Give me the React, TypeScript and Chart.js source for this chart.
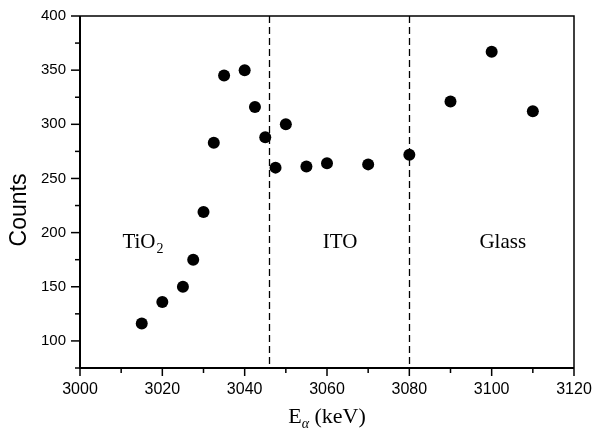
import React, { useEffect, useRef } from 'react';
import { Chart, registerables } from 'chart.js';

Chart.register(...registerables);

// ---- data ----
const energies = [3015, 3020, 3025, 3027.5, 3030, 3032.5, 3035, 3040, 3042.5, 3045, 3047.5, 3050, 3055, 3060, 3070, 3080, 3090, 3100, 3110];
const counts = [116, 136, 150, 175, 219, 283, 345, 350, 316, 288, 260, 300, 261, 264, 263, 272, 321, 367, 312];

const boundaries = [3046, 3080];

const regionNames = ['TiO', 'ITO', 'Glass'];
const regionSubs = ['2', '', ''];
const regionX = [3015.3, 3063.2, 3102.7];
const regionY = [186, 186, 186];

const xMajorTicks = [3000, 3020, 3040, 3060, 3080, 3100, 3120];
const xMinorTicks = [3010, 3030, 3050, 3070, 3090, 3110];
const yMajorTicks = [100, 150, 200, 250, 300, 350, 400];
const yMinorTicks = [75, 125, 175, 225, 275, 325, 375];

const yTitle = 'Counts';
const xTitleMain = 'E';
const xTitleSub = 'α';
const xTitleRest = ' (keV)';

const SERIF = '"Liberation Serif", "Times New Roman", serif';
const SANS = '"Liberation Sans", Arial, sans-serif';

const overlayPlugin = {
  id: 'overlay',
  beforeDatasetsDraw(chart: any) {
    const ctx = chart.ctx;
    const ca = chart.chartArea;
    const xs = chart.scales.x;
    ctx.save();
    ctx.strokeStyle = '#000';
    ctx.lineWidth = 1.3;
    ctx.setLineDash([7, 4]);
    boundaries.forEach((b) => {
      const px = Math.round(xs.getPixelForValue(b)) + 0.5;
      ctx.beginPath();
      ctx.moveTo(px, ca.top);
      ctx.lineTo(px, ca.bottom);
      ctx.stroke();
    });
    ctx.restore();
  },
  afterDraw(chart: any) {
    const ctx = chart.ctx;
    const ca = chart.chartArea;
    const xs = chart.scales.x;
    const ys = chart.scales.y;
    ctx.save();
    ctx.strokeStyle = '#000';
    ctx.fillStyle = '#000';
    // frame
    ctx.lineWidth = 1.5;
    ctx.beginPath();
    ctx.moveTo(ca.left, ca.top);
    ctx.lineTo(ca.right, ca.top);
    ctx.lineTo(ca.right, ca.bottom);
    ctx.stroke();
    ctx.lineWidth = 2;
    ctx.beginPath();
    ctx.moveTo(ca.left, ca.top);
    ctx.lineTo(ca.left, ca.bottom);
    ctx.lineTo(ca.right, ca.bottom);
    ctx.stroke();
    // ticks
    ctx.lineWidth = 1.5;
    const tick = (x1: number, y1: number, x2: number, y2: number) => {
      ctx.beginPath();
      ctx.moveTo(x1, y1);
      ctx.lineTo(x2, y2);
      ctx.stroke();
    };
    xMajorTicks.forEach((v) => {
      const px = xs.getPixelForValue(v);
      tick(px, ca.bottom, px, ca.bottom + 8);
    });
    xMinorTicks.forEach((v) => {
      const px = xs.getPixelForValue(v);
      tick(px, ca.bottom, px, ca.bottom + 5);
    });
    yMajorTicks.forEach((v) => {
      const py = ys.getPixelForValue(v);
      tick(ca.left, py, ca.left - 9, py);
    });
    yMinorTicks.forEach((v) => {
      const py = ys.getPixelForValue(v);
      tick(ca.left, py, ca.left - 5, py);
    });
    // region labels
    ctx.textBaseline = 'alphabetic';
    ctx.textAlign = 'left';
    regionNames.forEach((name, i) => {
      const cx = xs.getPixelForValue(regionX[i]);
      const by = ys.getPixelForValue(regionY[i]);
      ctx.font = `21px ${SERIF}`;
      const w1 = ctx.measureText(name).width;
      ctx.font = `14px ${SERIF}`;
      const w2 = regionSubs[i] ? ctx.measureText(regionSubs[i]).width + 1 : 0;
      const sx = cx - (w1 + w2) / 2;
      ctx.font = `21px ${SERIF}`;
      ctx.fillText(name, sx, by);
      if (regionSubs[i]) {
        ctx.font = `14px ${SERIF}`;
        ctx.fillText(regionSubs[i], sx + w1 + 1, by + 5);
      }
    });
    // x title
    const tcx = (ca.left + ca.right) / 2;
    const tby = 423;
    ctx.font = `22px ${SERIF}`;
    const wE = ctx.measureText(xTitleMain).width;
    const wR = ctx.measureText(xTitleRest).width;
    ctx.font = `italic 14px ${SERIF}`;
    const wA = ctx.measureText(xTitleSub).width;
    const sx = tcx - (wE + wA + wR) / 2;
    ctx.font = `22px ${SERIF}`;
    ctx.fillText(xTitleMain, sx, tby);
    ctx.font = `italic 14px ${SERIF}`;
    ctx.fillText(xTitleSub, sx + wE, tby + 5);
    ctx.font = `22px ${SERIF}`;
    ctx.fillText(xTitleRest, sx + wE + wA, tby);
    // y title
    ctx.save();
    ctx.translate(20, 210);
    ctx.rotate(-Math.PI / 2);
    ctx.font = `23px ${SANS}`;
    ctx.textAlign = 'center';
    ctx.textBaseline = 'middle';
    ctx.fillText(yTitle, 0, 0);
    ctx.restore();
    ctx.restore();
  },
};

export default function App() {
  const canvasRef = useRef<HTMLCanvasElement | null>(null);

  useEffect(() => {
    document.body.style.margin = '0';
    const canvas = canvasRef.current;
    if (!canvas) return;
    const chart = new Chart(canvas, {
      type: 'scatter',
      data: {
        datasets: [
          {
            data: energies.map((e, i) => ({ x: e, y: counts[i] })),
            backgroundColor: '#000',
            borderColor: '#000',
            pointRadius: 6,
            pointHoverRadius: 6,
            borderWidth: 0,
          },
        ],
      },
      options: {
        responsive: false,
        animation: false,
        devicePixelRatio: 1,
        layout: { padding: { left: 0, right: 18, top: 16, bottom: 0 } },
        plugins: {
          legend: { display: false },
          tooltip: { enabled: false },
        },
        scales: {
          x: {
            type: 'linear',
            min: 3000,
            max: 3120,
            afterFit: (scale: any) => {
              scale.height = 65;
              scale.paddingRight = 0;
              scale.paddingLeft = 0;
            },
            afterBuildTicks: (scale: any) => {
              scale.ticks = xMajorTicks.map((v) => ({ value: v }));
            },
            grid: {
              display: true,
              drawOnChartArea: false,
              drawTicks: true,
              tickLength: 8,
              tickColor: 'rgba(0,0,0,0)',
            },
            border: { display: false },
            ticks: {
              color: '#000',
              padding: 4,
              maxRotation: 0,
              autoSkip: false,
              font: { family: SANS, size: 16 },
              callback: (v: any) => String(v),
            },
          },
          y: {
            type: 'linear',
            min: 75,
            max: 400,
            afterFit: (scale: any) => {
              scale.width = 80;
            },
            afterBuildTicks: (scale: any) => {
              scale.ticks = yMajorTicks.map((v) => ({ value: v }));
            },
            grid: {
              display: true,
              drawOnChartArea: false,
              drawTicks: true,
              tickLength: 10,
              tickColor: 'rgba(0,0,0,0)',
            },
            border: { display: false },
            ticks: {
              color: '#000',
              padding: 4,
              autoSkip: false,
              font: { family: SANS, size: 15 },
              callback: (v: any) => String(v),
            },
          },
        },
      },
      plugins: [overlayPlugin],
    });
    return () => chart.destroy();
  }, []);

  return (
    <div style={{ position: 'absolute', left: 0, top: 0, width: 592, height: 433, background: '#fff' }}>
      <canvas ref={canvasRef} width={592} height={433} style={{ width: 592, height: 433, display: 'block' }} />
    </div>
  );
}
